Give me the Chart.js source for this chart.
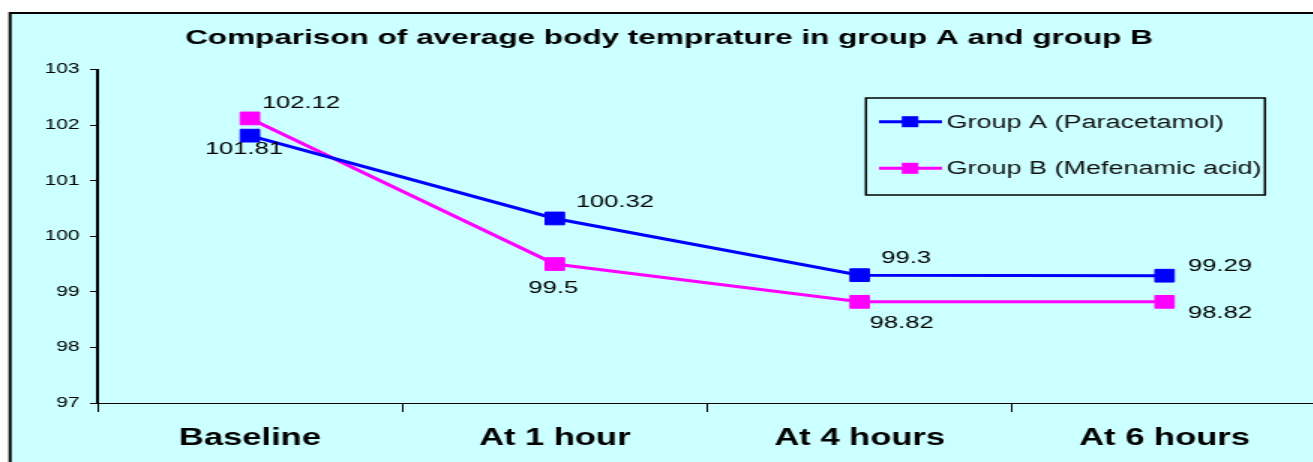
<!DOCTYPE html>
<html><head><meta charset="utf-8">
<script src="https://cdn.jsdelivr.net/npm/chart.js"></script>
<style>
html,body{margin:0;padding:0;background:#fff;overflow:hidden;width:1313px;height:462px;}
#wrap{position:absolute;left:0;top:0;width:888px;height:462px;transform:scaleX(1.5);transform-origin:0 0;}
</style></head><body>
<div id="wrap"><canvas id="c" width="888" height="462"></canvas></div>
<script>
// ---- data ----
const categories = ['Baseline', 'At 1 hour', 'At 4 hours', 'At 6 hours'];
const groupA = [101.81, 100.32, 99.3, 99.29];
const groupB = [102.12, 99.5, 98.82, 98.82];
const yTicks = [97, 98, 99, 100, 101, 102, 103];
const seriesNames = ['Group A (Paracetamol)', 'Group B (Mefenamic acid)'];
const titleText = 'Comparison of average body temprature in group A and group B';

// ---- styles ----
const FONT = '"Liberation Sans", Arial, sans-serif';
const colors = ['#0000FF', '#FF00FF'];
const labelOffsets = [
  [[-4, 14], [40, -16], [31, -17], [37, -9]],
  [[34, -15], [-1, 24], [28, 21], [37, 11]]
];

const framePlugin = {
  id: 'frame',
  beforeDraw(chart) {
    const ctx = chart.ctx;
    ctx.save();
    ctx.fillStyle = '#ffffff';
    ctx.fillRect(0, 0, chart.width, chart.height);
    ctx.fillStyle = '#CCFFFF';
    ctx.fillRect(6.7, 13, chart.width, chart.height);
    ctx.strokeStyle = '#000';
    ctx.lineWidth = 2;
    ctx.strokeRect(6.7, 13, chart.width + 20, chart.height + 20);
    ctx.restore();
  },
  afterLayout(chart) {
    const t = chart.titleBlock;
    if (t) {
      const shift = 446 - (t.left + t.right) / 2;
      t.left += shift; t.right += shift;
    }
  }
};

const valueLabels = {
  id: 'valueLabels',
  afterDatasetsDraw(chart) {
    const ctx = chart.ctx;
    ctx.save();
    ctx.font = '17px ' + FONT;
    ctx.fillStyle = '#000';
    ctx.textAlign = 'center';
    ctx.textBaseline = 'middle';
    chart.data.datasets.forEach((ds, di) => {
      const meta = chart.getDatasetMeta(di);
      meta.data.forEach((pt, i) => {
        const off = labelOffsets[di][i];
        ctx.fillText(String(ds.data[i]), pt.x + off[0], pt.y + off[1]);
      });
    });
    ctx.restore();
  }
};

const boxLegend = {
  id: 'boxLegend',
  afterDraw(chart) {
    const ctx = chart.ctx;
    ctx.save();
    const bx = 577.3, by = 98, bw = 266, bh = 97;
    ctx.strokeStyle = '#000';
    ctx.lineWidth = 1.5;
    ctx.strokeRect(bx, by, bw, bh);
    const rows = [121.7, 168.3];
    chart.data.datasets.forEach((ds, i) => {
      const y = rows[i];
      ctx.strokeStyle = ds.borderColor;
      ctx.lineWidth = 3;
      ctx.beginPath();
      ctx.moveTo(586, y);
      ctx.lineTo(628, y);
      ctx.stroke();
      ctx.fillStyle = ds.borderColor;
      ctx.fillRect(606.7 - 5.5, y - 5.5, 11, 11);
      ctx.fillStyle = '#111';
      ctx.font = '18px ' + FONT;
      ctx.textAlign = 'left';
      ctx.textBaseline = 'middle';
      ctx.fillText(ds.label, 631, y + 1);
    });
    ctx.restore();
  }
};

function makeDataset(i, data) {
  return {
    label: seriesNames[i],
    data: data,
    borderColor: colors[i],
    backgroundColor: colors[i],
    borderWidth: 3,
    pointStyle: 'rect',
    pointRadius: 9,
    pointBorderWidth: 1,
    pointBackgroundColor: colors[i],
    pointBorderColor: colors[i],
    tension: 0,
    fill: false
  };
}

new Chart(document.getElementById('c'), {
  type: 'line',
  data: {
    labels: categories,
    datasets: [makeDataset(0, groupA), makeDataset(1, groupB)]
  },
  options: {
    responsive: false,
    animation: false,
    devicePixelRatio: 1,
    layout: { padding: { left: 0, right: 2, top: 0, bottom: 0 } },
    plugins: {
      legend: { display: false },
      tooltip: { enabled: false },
      title: {
        display: true,
        text: titleText,
        color: '#000',
        font: { family: FONT, size: 21, weight: 'bold' },
        padding: { top: 26, bottom: 18.3 }
      }
    },
    scales: {
      x: {
        type: 'category',
        offset: true,
        grid: { offset: true, drawOnChartArea: false, drawTicks: true, tickLength: 9, color: '#000', lineWidth: 1 },
        border: { display: true, color: '#000', width: 1 },
        ticks: { color: '#000', font: { family: FONT, size: 23, weight: 'bold' }, padding: 13, maxRotation: 0, autoSkip: false },
        afterFit(s) { s.height = 59; }
      },
      y: {
        min: 97,
        max: 103,
        afterBuildTicks(s) { s.ticks = yTicks.map(v => ({ value: v })); },
        grid: { drawOnChartArea: false, drawTicks: true, tickLength: 5, color: '#000', lineWidth: 1 },
        border: { display: true, color: '#000', width: 2 },
        ticks: { color: '#000', font: { family: FONT, size: 14 }, padding: 7 },
        afterFit(s) { s.width = 65; }
      }
    }
  },
  plugins: [framePlugin, valueLabels, boxLegend]
});
</script>
</body></html>
